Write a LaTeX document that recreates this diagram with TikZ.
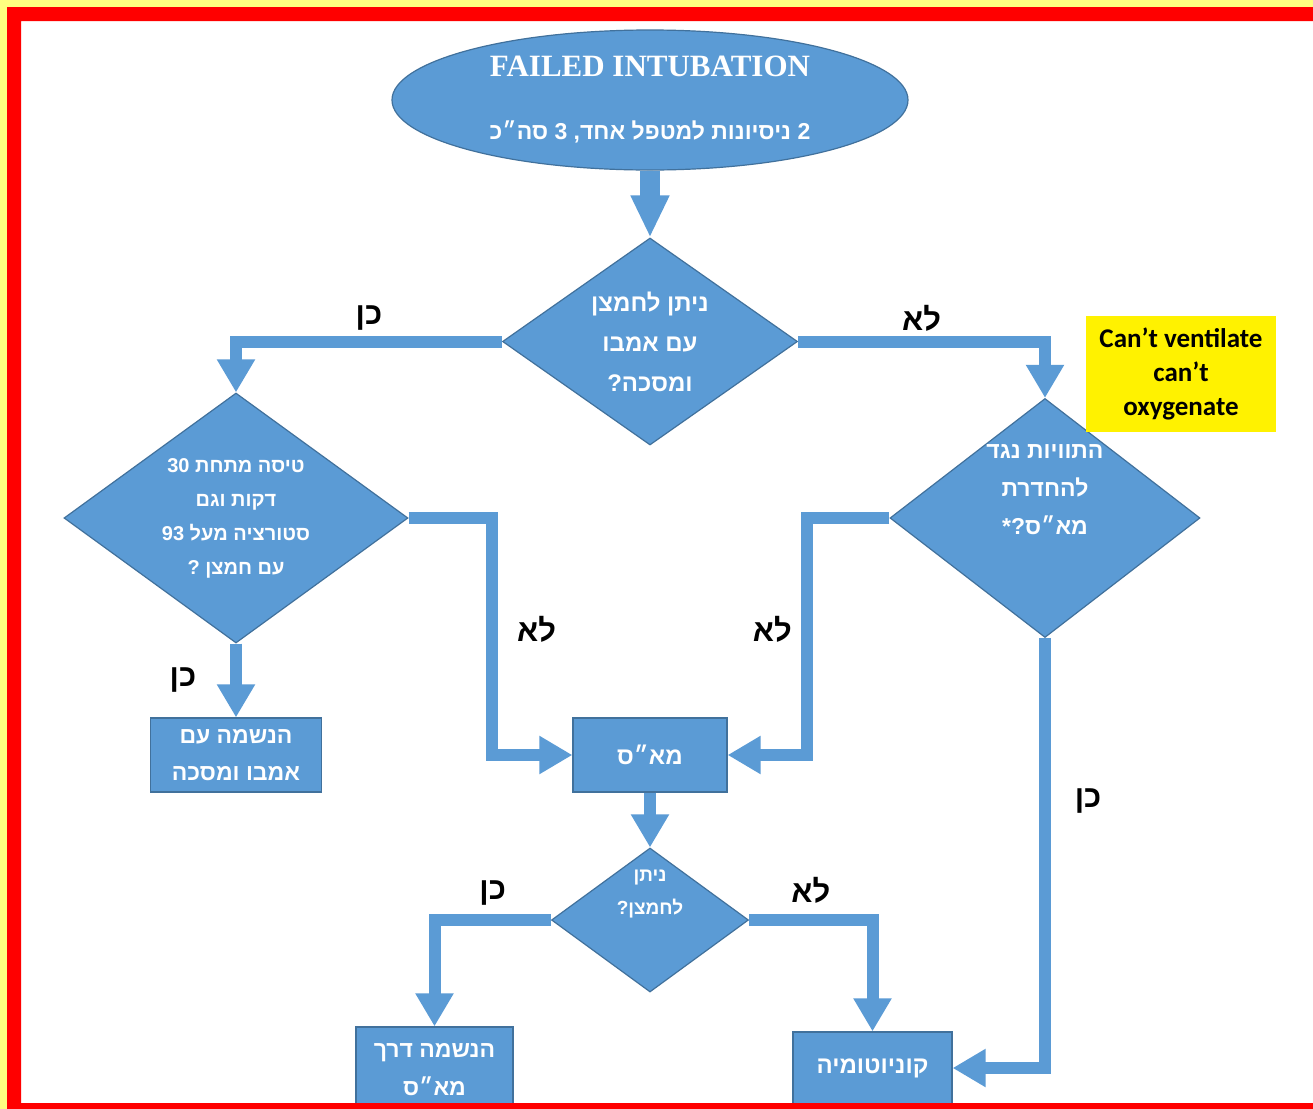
\documentclass[tikz,border=0pt]{standalone}
\usepackage{fontspec}
\setmainfont{Liberation Serif}
\newfontfamily\hebfont[Script=Hebrew]{Liberation Sans}
\newfontfamily\calfont{Carlito}
\usetikzlibrary{shapes.geometric, arrows.meta}
\TeXXeTstate=1
\newcommand{\heb}[1]{\beginR #1\endR}
\newcommand{\fsz}[2]{\fontsize{#1pt}{#2pt}\selectfont}
\definecolor{boxblue}{HTML}{5B9BD5}
\definecolor{edgeblue}{HTML}{41719C}
\definecolor{framered}{HTML}{FF0000}
\definecolor{paleyellow}{HTML}{FFFF80}
\tikzstyle{start} = [
    ellipse, minimum width=258pt, minimum height=70pt, inner sep=0pt,
    fill=boxblue, draw=edgeblue, line width=0.6pt, text=white, align=center
]
\tikzstyle{decision} = [
    diamond, inner sep=0pt, fill=boxblue, draw=edgeblue, line width=0.6pt,
    text=white, align=center
]
\tikzstyle{process} = [
    rectangle, inner sep=0pt, fill=boxblue, draw=edgeblue, line width=0.6pt,
    text=white, align=center
]
\tikzstyle{hebtext} = [text=white, align=center, inner sep=0pt]
\tikzstyle{answer} = [text=black, inner sep=0pt, font=\hebfont\bfseries\fsz{15.5}{20}]
\tikzstyle{arrow} = [boxblue, line width=6pt, line join=miter,
    -{Triangle[length=16.5pt 0 0, width=18pt 0 0]}]

\begin{document}
\begin{tikzpicture}[x=0.5pt, y=-0.5pt, node distance=120pt]
        \useasboundingbox (0,0) rectangle (1313,1109);
        \fill [paleyellow] (0,0) rectangle (1313,1109);
        \fill [white] (21,21) rectangle (1313,1103);

        \node (fail) [start, font=\fsz{11.5}{31.5}] at (650,100)
            {{\bfseries\fsz{15.5}{31.5}FAILED INTUBATION}\\
             {\hebfont\bfseries\heb{2 ניסיונות למטפל אחד, 3 סה״כ}}};
        \node (oxyq) [decision, aspect=1.43, minimum width=147.5pt, minimum height=103.5pt,
            below of=fail, yshift=-0.75pt, font=\hebfont\bfseries\fsz{12}{20}]
            {\heb{ניתן לחמצן}\\\heb{עם אמבו}\\\heb{ומסכה?}};
        \node (satq) [decision, aspect=1.38, minimum width=172pt, minimum height=125pt,
            below of=oxyq, xshift=-207pt, yshift=31.75pt,
            font=\hebfont\bfseries\fsz{10}{17}]
            {\heb{טיסה מתחת \beginL 30\endL{}}\\\heb{דקות וגם}\\
             \heb{סטורציה מעל \beginL 93\endL{}}\\\heb{עם חמצן ?}};
        \node (lmaq) [decision, aspect=1.3, minimum width=155pt, minimum height=119.5pt,
            below of=oxyq, xshift=197.5pt, yshift=31.75pt] {};
        \node (lmaqtext) [hebtext, yshift=14pt, font=\hebfont\bfseries\fsz{11.5}{19}]
            at (lmaq.center)
            {\heb{התוויות נגד}\\\heb{להחדרת}\\\heb{מא״ס?*}};
        \node (cant) [rectangle, fill=yellow, minimum width=95pt, minimum height=58pt,
            align=center, font=\calfont\bfseries\fsz{13.5}{17},
            above of=lmaq, xshift=68pt, yshift=-48pt]
            {Can’t ventilate\\can’t\\oxygenate};
        \node (bag) [process, minimum width=85.5pt, minimum height=37pt,
            below of=satq, yshift=1.5pt, font=\hebfont\bfseries\fsz{11.5}{18.5}]
            {\heb{הנשמה עם}\\\heb{אמבו ומסכה}};
        \node (lma) [process, minimum width=77pt, minimum height=37pt,
            below of=oxyq, yshift=-86.75pt, font=\hebfont\bfseries\fsz{12}{18.5}]
            {\heb{מא״ס}};
        \node (oxy2q) [decision, aspect=1.37, minimum width=98.5pt, minimum height=72pt,
            below of=lma, yshift=37.5pt] {};
        \node (oxy2qtext) [hebtext, yshift=12.75pt, font=\hebfont\bfseries\fsz{9.5}{16.5}]
            at (oxy2q.center)
            {\heb{ניתן}\\\heb{לחמצן?}};
        \node (vent) [process, minimum width=78.5pt, minimum height=42.5pt,
            below of=oxy2q, xshift=-107.75pt, yshift=45.25pt,
            font=\hebfont\bfseries\fsz{11.5}{19}]
            {\heb{הנשמה דרך}\\\heb{מא״ס}};
        \node (konio) [process, minimum width=79.5pt, minimum height=36pt,
            below of=oxy2q, xshift=111.25pt, yshift=46pt,
            font=\hebfont\bfseries\fsz{12}{19}]
            {\heb{קוניוטומיה}};

        \draw [arrow, line width=10pt, -{Triangle[length=21pt 0 0, width=18pt 0 0]}]
            (fail.south) -- (oxyq.north);
        \draw [arrow] (oxyq.west) -| node[answer, pos=0.25, yshift=11.5pt] {\heb{כן}}
            (satq.north);
        \draw [arrow] (oxyq.east) -| node[answer, pos=0.25, yshift=11.5pt] {\heb{לא}}
            (lmaq.north);
        \draw [arrow] (satq.south) -- node[answer, xshift=-26.5pt] {\heb{כן}} (bag.north);
        \draw [arrow] (satq.east) -- ++(41.5pt,0)
            |- node[answer, pos=0.25, xshift=22.5pt, yshift=3.5pt] {\heb{לא}} (lma.west);
        \draw [arrow] (lmaq.west) -- ++(-41pt,0)
            |- node[answer, pos=0.25, xshift=-17.5pt, yshift=3.5pt] {\heb{לא}} (lma.east);
        \draw [arrow] (lmaq.south)
            |- node[answer, pos=0.19, xshift=21.5pt] {\heb{כן}} (konio.east);
        \draw [arrow] (lma.south) -- (oxy2q.north);
        \draw [arrow] (oxy2q.west) -| node[answer, pos=0.25, yshift=13.5pt] {\heb{כן}}
            (vent.north);
        \draw [arrow] (oxy2q.east) -| node[answer, pos=0.25, yshift=15pt] {\heb{לא}}
            (konio.north);

        % red frame on top
        \fill [framered, even odd rule] (7,7) rectangle (1340,1120)
            (21,21) rectangle (1330,1103);
    \end{tikzpicture}
\end{document}
